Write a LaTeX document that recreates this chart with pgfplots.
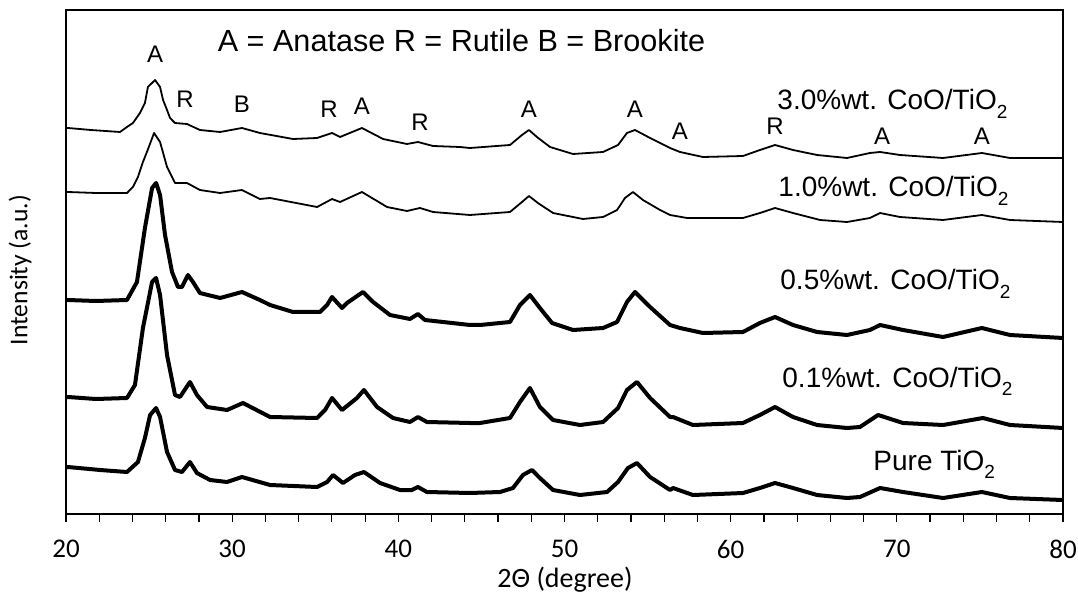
\documentclass[border=0pt]{standalone}
\usepackage{fontspec}
\setmainfont{Liberation Sans}
\newfontfamily\calibri{Carlito}
\usepackage{pgfplots}
\pgfplotsset{compat=1.18}
\newcommand{\sub}[1]{\raisebox{-0.32em}{\fontsize{9.5}{10}\selectfont #1}}
\begin{document}
\begin{tikzpicture}
\begin{axis}[name=ax, scale only axis, width=498.5pt, height=252pt,
  xmin=20, xmax=80, ymin=0, ymax=504, clip=false,
  axis line style={line width=1pt},
  xtick={20,30,...,80}, minor xtick={22,24,...,78},
  ytick=\empty, tick align=outside, xtick pos=lower,
  major tick length=4pt, minor tick length=4pt,
  every tick/.style={line width=0.6pt, black},
  /pgf/number format/assume math mode=true,
  xticklabel style={font=\calibri\fontsize{13.5}{15}\selectfont, yshift=-5.5pt},
  xlabel={2Θ (degree)},
  xlabel style={font=\calibri\fontsize{14}{16}\selectfont, at={(rel axis cs:0.5005,-0.131)}, anchor=center},
  ylabel={Intensity (a.u.)},
  ylabel style={font=\calibri\fontsize{12.8}{15}\selectfont, at={(rel axis cs:-0.0461,0.484)}, anchor=center},
]
% 3.0 wt% CoO/TiO2
\addplot[black, line width=0.9pt, line join=round] coordinates {
(20,386) (20.12,386) (21.5,384) (23.25,382) (23.67,387) (24.03,391) (24.45,401) (24.75,411) (24.93,427) (25.36,434) (25.66,427) (25.84,414) (26.08,404) (26.26,396) (26.56,391) (27.28,390) (28.06,384) (29.27,382) (30.59,386) (31.67,381) (33.66,375) (35.11,376) (36.01,381) (36.49,377) (37.81,386) (39.08,375) (40.52,370) (41.18,372) (42.09,368) (43.71,367) (44.31,366) (46.72,369) (47.44,379) (47.86,384) (48.34,377) (49.13,367) (50.51,360) (52.32,362) (53.22,369) (53.76,381) (54.24,384) (55.15,376) (56.35,366) (56.95,362) (58.33,357) (60.74,358) (61.76,364) (62.67,369) (63.75,364) (65.20,359) (67.00,356) (68.38,361) (68.99,362) (70.19,359) (72.78,356) (75.12,361) (76.81,356) (80,356)};
% 1.0 wt% CoO/TiO2
\addplot[black, line width=0.9pt, line join=round] coordinates {
(20,322) (20.12,322) (21.8,321) (23.67,321) (24.03,327) (24.33,337) (24.63,352) (24.87,362) (25.30,381) (25.66,372) (26.08,347) (26.56,331) (27.28,331) (28.06,324) (29.27,321) (30.59,324) (31.67,315) (32.28,316) (35.11,307) (36.01,315) (36.49,312) (37.81,322) (39.32,307) (40.52,303) (41.30,306) (42.09,302) (44.31,299) (46.72,302) (47.44,312) (47.86,318) (48.40,311) (49.31,301) (51.11,295) (52.32,297) (53.16,304) (53.64,316) (54.12,322) (54.72,314) (55.75,304) (56.35,299) (57.37,296) (60.74,296) (61.76,301) (62.67,306) (63.75,301) (65.38,294) (67.00,292) (68.38,296) (68.99,301) (70.19,297) (72.78,294) (75.12,299) (76.81,294) (80,292)};
% 0.5 wt% CoO/TiO2
\addplot[black, line width=2pt, line join=round] coordinates {
(20,214) (20.12,214) (21.8,213) (23.67,214) (24.27,232) (24.75,286) (25.18,326) (25.42,331) (25.66,319) (25.96,279) (26.38,242) (26.74,227) (26.98,227) (27.34,239) (27.64,232) (28.06,221) (29.27,216) (30.59,222) (31.67,214) (32.28,209) (33.66,202) (35.29,202) (35.71,209) (36.01,217) (36.61,206) (36.91,211) (37.87,222) (38.48,212) (39.50,199) (40.70,195) (41.18,200) (41.60,194) (44.31,189) (44.91,189) (46.72,192) (47.32,209) (47.92,219) (48.52,206) (49.25,191) (50.51,184) (52.32,186) (53.16,192) (53.76,212) (54.24,222) (55.15,207) (56.35,189) (56.95,186) (58.33,181) (60.74,182) (61.76,191) (62.67,197) (63.75,189) (65.20,182) (67.00,179) (68.38,184) (68.99,189) (70.37,184) (72.78,177) (75.12,186) (76.81,179) (80,176)};
% 0.1 wt% CoO/TiO2
\addplot[black, line width=2pt, line join=round] coordinates {
(20,117) (20.12,117) (21.8,115) (23.67,116) (24.15,129) (24.63,186) (25.18,232) (25.42,236) (25.66,219) (26.08,159) (26.56,119) (26.86,117) (27.46,132) (27.88,119) (28.49,107) (29.69,104) (30.65,111) (32.28,97) (35.11,96) (35.59,104) (36.01,116) (36.61,104) (37.51,116) (37.93,124) (38.72,107) (39.68,96) (40.70,92) (41.18,97) (41.72,92) (44.31,91) (44.91,91) (46.72,96) (47.32,112) (47.92,126) (48.52,107) (49.31,94) (50.93,89) (52.32,92) (53.22,106) (53.76,124) (54.36,132) (55.15,116) (56.35,97) (56.53,97) (57.73,89) (60.74,91) (61.76,99) (62.67,107) (63.75,97) (65.20,89) (67.00,86) (67.78,87) (68.87,99) (70.37,91) (72.78,89) (75.18,96) (76.81,89) (80,86)};
% Pure TiO2
\addplot[black, line width=2pt, line join=round] coordinates {
(20,47) (20.12,47) (22.05,44) (23.67,42) (24.33,52) (24.75,76) (25.06,99) (25.42,106) (25.66,97) (26.08,62) (26.56,44) (26.98,42) (27.46,52) (27.88,41) (28.67,34) (29.69,32) (30.59,37) (32.28,29) (35.11,27) (35.71,32) (36.07,39) (36.67,31) (37.39,39) (37.93,42) (38.90,31) (40.10,24) (40.82,24) (41.18,27) (41.72,22) (44.31,21) (46.12,22) (46.90,26) (47.50,39) (48.04,44) (48.52,36) (49.31,24) (50.93,19) (52.56,22) (53.22,32) (53.82,46) (54.36,51) (55.15,37) (56.35,24) (56.53,26) (57.73,19) (60.74,21) (61.76,26) (62.67,31) (63.75,26) (65.20,19) (67.00,16) (67.78,17) (68.99,26) (70.37,22) (72.78,16) (75.12,22) (76.81,16) (80,14)};
% phase labels
\node[anchor=base, font=\fontsize{15.3}{18}\selectfont] at (axis cs:43.8,462) {A = Anatase R = Rutile B = Brookite};
\begin{scope}[every node/.style={anchor=base, font=\fontsize{12}{14}\selectfont}]
\node at (axis cs:25.36,451) {A};
\node at (axis cs:27.16,406) {R};
\node at (axis cs:30.59,401) {B};
\node at (axis cs:35.83,396) {R};
\node at (axis cs:37.81,399) {A};
\node at (axis cs:41.30,383) {R};
\node at (axis cs:47.86,396) {A};
\node at (axis cs:54.24,396) {A};
\node at (axis cs:56.95,374) {A};
\node at (axis cs:62.67,379) {R};
\node at (axis cs:69.11,369) {A};
\node at (axis cs:75.12,369) {A};
\end{scope}
\begin{scope}[every node/.style={anchor=base west, inner sep=0pt, font=\fontsize{14}{16}\selectfont}]
\node at (axis cs:62.79,404) {3.0\%wt. CoO/TiO\sub{2}};
\node at (axis cs:62.85,317) {1.0\%wt. CoO/TiO\sub{2}};
\node at (axis cs:62.97,224) {0.5\%wt. CoO/TiO\sub{2}};
\node at (axis cs:63.09,127) {0.1\%wt. CoO/TiO\sub{2}};
\node at (axis cs:68.57,44) {Pure TiO\sub{2}};
\end{scope}
\end{axis}
\pgfresetboundingbox
\useasboundingbox ([xshift=-33pt,yshift=-39.5pt]ax.south west) rectangle ([xshift=7.5pt,yshift=5pt]ax.north east);
\end{tikzpicture}
\end{document}
